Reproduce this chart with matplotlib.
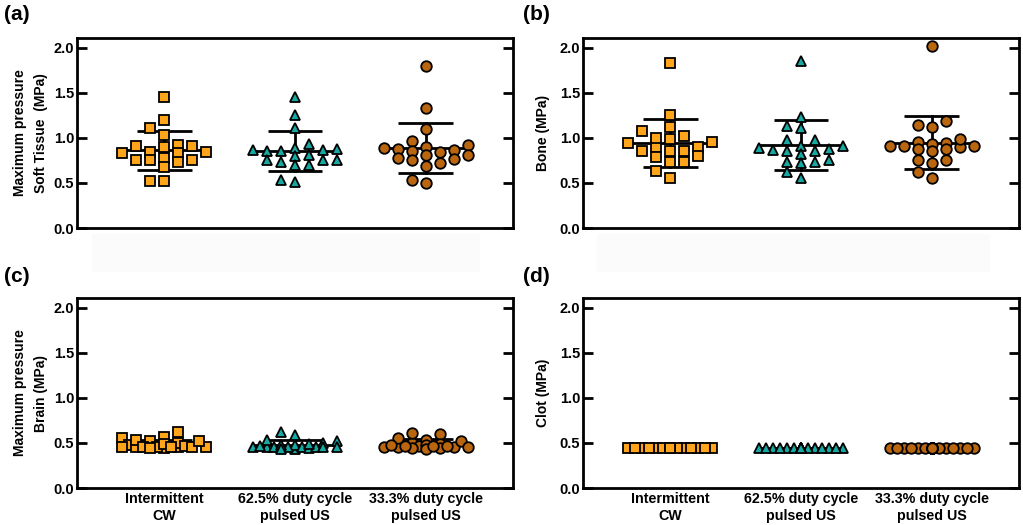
import numpy as np
import matplotlib
matplotlib.use("Agg")
import matplotlib.pyplot as plt
from matplotlib.patches import Rectangle

plt.rcParams["font.family"] = ["Liberation Sans", "DejaVu Sans"]

# ---- data (MPa) ----
groups = ["Intermittent\nCW", "62.5% duty cycle\npulsed US", "33.3% duty cycle\npulsed US"]

soft_cw = [1.46, 1.20, 1.11, 1.03, 0.91, 0.90, 0.91, 0.92, 0.83, 0.84,
           0.83, 0.84, 0.73, 0.78, 0.75, 0.76, 0.76, 0.68, 0.52, 0.52]
soft_625 = [1.46, 1.26, 1.11, 0.93, 0.85, 0.89, 0.87, 0.87, 0.88, 0.86,
            0.80, 0.81, 0.73, 0.75, 0.76, 0.76, 0.70, 0.70, 0.51, 0.53]
soft_333 = [1.80, 1.33, 1.10, 0.97, 0.88, 0.87, 0.86, 0.84, 0.90, 0.89,
            0.92, 0.77, 0.75, 0.81, 0.78, 0.81, 0.69, 0.72, 0.50, 0.53]

bone_cw = [1.83, 1.25, 1.12, 1.02, 1.08, 0.99, 0.90, 0.90, 0.95, 0.94,
           1.00, 0.86, 0.86, 0.86, 0.80, 0.79, 0.73, 0.73, 0.63, 0.56]
bone_625 = [1.85, 1.23, 1.11, 1.13, 0.98, 0.91, 0.87, 0.89, 0.91, 0.98,
            0.88, 0.82, 0.86, 0.86, 0.72, 0.75, 0.73, 0.73, 0.62, 0.55]
bone_333 = [2.02, 1.19, 1.12, 1.14, 0.90, 0.94, 0.91, 0.93, 0.96, 0.91,
            0.88, 0.91, 0.99, 0.88, 0.86, 0.76, 0.72, 0.75, 0.56, 0.62]

brain_cw = [0.55, 0.45, 0.52, 0.48, 0.50, 0.47, 0.44, 0.62, 0.46, 0.45,
            0.46, 0.57, 0.49, 0.53, 0.46, 0.45, 0.46, 0.52, 0.44, 0.45]
brain_625 = [0.46, 0.52, 0.46, 0.50, 0.43, 0.48, 0.46, 0.62, 0.59, 0.45,
             0.46, 0.46, 0.44, 0.46, 0.48, 0.49, 0.53, 0.43, 0.47, 0.45]
brain_333 = [0.46, 0.60, 0.50, 0.47, 0.49, 0.44, 0.53, 0.48, 0.43, 0.52,
             0.61, 0.46, 0.44, 0.47, 0.45, 0.47, 0.46, 0.55, 0.48, 0.47]

clot_cw = [0.44, 0.44, 0.44, 0.44, 0.44, 0.44, 0.44, 0.44, 0.44, 0.44,
           0.44, 0.44, 0.44, 0.44, 0.44, 0.44, 0.44, 0.44, 0.44, 0.44]
clot_625 = [0.44, 0.44, 0.44, 0.44, 0.44, 0.44, 0.44, 0.44, 0.44, 0.44,
            0.44, 0.44, 0.44, 0.44, 0.44, 0.44, 0.44, 0.44, 0.44, 0.44]
clot_333 = [0.44, 0.44, 0.44, 0.44, 0.44, 0.44, 0.44, 0.44, 0.44, 0.44,
            0.44, 0.44, 0.44, 0.44, 0.44, 0.44, 0.44, 0.44, 0.44, 0.44]

panels = [
    ("(a)", "Maximum pressure\nSoft Tissue  (MPa)", [soft_cw, soft_625, soft_333]),
    ("(b)", "Bone (MPa)", [bone_cw, bone_625, bone_333]),
    ("(c)", "Maximum pressure\nBrain (MPa)", [brain_cw, brain_625, brain_333]),
    ("(d)", "Clot (MPa)", [clot_cw, clot_625, clot_333]),
]

# marker style per group
styles = [
    dict(marker="s", color="#FFA51C", ms=6.8),
    dict(marker="^", color="#17A8A2", ms=7.4),
    dict(marker="o", color="#B9660F", ms=7.6),
]

W, H = 1023, 525
XLIM = (1 - 0.2 / 0.3, 3 + 0.2 / 0.3)
YLIM = (0, 2.11)


def swarm_offsets(vals, px_x, px_y, dx=14.0, dy=8.5, step=7.0, maxoff=42.0):
    """Greedy dot-plot layout in pixel space, returns x offsets in data units."""
    vals = np.asarray(vals, dtype=float)
    ys = vals * px_y
    offs = np.zeros(len(vals))
    placed = []
    levels = np.arange(0, maxoff + 0.1, step)
    for i in np.argsort(vals, kind="stable"):
        y = ys[i]
        left = sum(1 for p in placed if p[0] < 0)
        right = sum(1 for p in placed if p[0] > 0)
        cands = []
        for lv in levels:
            if lv == 0:
                cands.append(0.0)
            elif left <= right:
                cands += [-lv, lv]
            else:
                cands += [lv, -lv]
        best, best_d = 0.0, -1.0
        for c in cands:
            if placed:
                md = min(max(abs(c - px) / dx, abs(y - py) / dy) for px, py in placed)
            else:
                md = 1e9
            if md >= 1.0:
                best = c
                break
            if md > best_d:
                best, best_d = c, md
        offs[i] = best
        placed.append((best, y))
    return offs / px_x


fig = plt.figure(figsize=(W / 100, H / 100), dpi=100)

# faint grey bands under the top panels (as in the reference)
for x0, x1 in [(92, 480), (597, 990)]:
    fig.patches.append(Rectangle((x0 / W, 1 - 272 / H), (x1 - x0) / W, 38 / H,
                                 transform=fig.transFigure, facecolor="#fbfbfb",
                                 edgecolor="none", zorder=0))

boxes = [(77, 38), (583, 38), (77, 298), (583, 298)]
aw, ah = 436, 190

for k, ((tag, ylab, data), (x0, y0)) in enumerate(zip(panels, boxes)):
    ax = fig.add_axes([x0 / W, 1 - (y0 + ah) / H, aw / W, ah / H])
    ax.set_xlim(*XLIM)
    ax.set_ylim(*YLIM)
    px_x = aw / (XLIM[1] - XLIM[0])
    px_y = ah / (YLIM[1] - YLIM[0])

    for g, (vals, st) in enumerate(zip(data, styles)):
        pos = g + 1
        v = np.asarray(vals)
        m = v.mean()
        sd = v.std(ddof=1)
        # mean and SD bars behind the points
        ax.plot([pos - 0.34, pos + 0.34], [m, m], color="black", lw=2, zorder=2,
                solid_capstyle="butt")
        if sd > 0:
            ax.plot([pos, pos], [m - sd, m + sd], color="black", lw=2, zorder=2)
            for yy in (m - sd, m + sd):
                ax.plot([pos - 0.21, pos + 0.21], [yy, yy], color="black", lw=2,
                        zorder=2, solid_capstyle="butt")
        xo = swarm_offsets(v, px_x, px_y)
        ax.plot(pos + xo, v, linestyle="none", marker=st["marker"], ms=st["ms"],
                mfc=st["color"], mec="black", mew=1.3, zorder=3)

    for s in ax.spines.values():
        s.set_linewidth(2)
    ax.set_yticks([0, 0.5, 1.0, 1.5, 2.0])
    ax.set_yticklabels(["0.0", "0.5", "1.0", "1.5", "2.0"])
    ax.tick_params(axis="y", direction="in", length=7, width=2, left=True,
                   right=True, pad=2, labelsize=10.5)
    for t in ax.get_yticklabels():
        t.set_fontweight("bold")
    ax.set_xticks([1, 2, 3])
    ax.tick_params(axis="x", length=0, pad=3)
    if k >= 2:
        ax.set_xticklabels(groups, fontsize=10.3, fontweight="bold", linespacing=1.3)
    else:
        ax.set_xticklabels([])

    pad = 4 if "\n" in ylab else 7
    ax.set_ylabel(ylab, fontsize=10, fontweight="bold", linespacing=1.65, labelpad=pad)

    lx = 4 if x0 < 300 else 523
    ly = 15 if y0 < 200 else 277
    fig.text(lx / W, 1 - ly / H, tag, fontsize=15, fontweight="bold",
             ha="left", va="center")

fig.savefig("out.png", dpi=100)
